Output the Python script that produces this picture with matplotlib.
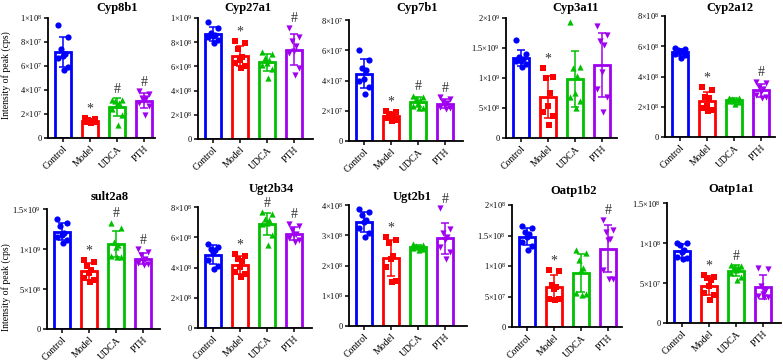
import numpy as np
import matplotlib
matplotlib.use('Agg')
import matplotlib.pyplot as plt

plt.rcParams['font.family'] = ['Liberation Serif', 'DejaVu Serif']
plt.rcParams['mathtext.fontset'] = 'custom'
plt.rcParams['mathtext.rm'] = 'Liberation Serif'
plt.rcParams['mathtext.it'] = 'Liberation Serif:italic'
plt.rcParams['mathtext.bf'] = 'Liberation Serif:bold'

groups = ['Control', 'Model', 'UDCA', 'PTH']
colors = ['#0000ff', '#ff0000', '#00c000', '#a000f0']
markers = ['o', 's', '^', 'v']

titles = ['Cyp8b1', 'Cyp27a1', 'Cyp7b1', 'Cyp3a11', 'Cyp2a12',
          'sult2a8', 'Ugt2b34', 'Ugt2b1', 'Oatp1b2', 'Oatp1a1']
units = [1e7, 1e8, 1e7, 1e8, 1e8, 1e8, 1e8, 1e8, 1e7, 1e7]

cyp8b1 = [[9.4, 8.4, 7.4, 7.0, 6.8, 6.7, 5.9, 5.7],
          [1.7, 1.6, 1.5, 1.45, 1.4, 1.35, 1.3, 1.25],
          [3.2, 3.2, 3.05, 2.95, 2.8, 2.4, 1.9, 1.05],
          [3.9, 3.7, 3.3, 3.3, 3.2, 2.95, 2.65, 1.95]]
cyp27a1 = [[9.7, 9.2, 8.8, 8.6, 8.5, 8.4, 8.2, 7.9],
           [8.1, 7.9, 7.4, 6.8, 6.5, 6.3, 6.0, 5.9],
           [7.2, 7.0, 6.7, 6.55, 6.3, 6.1, 5.75, 5.05],
           [9.2, 8.4, 8.1, 7.7, 7.25, 7.1, 5.9, 5.3]]
cyp7b1 = [[6.0, 5.35, 4.8, 4.7, 4.1, 4.0, 3.6, 3.1],
          [2.0, 1.9, 1.8, 1.7, 1.6, 1.5, 1.4, 1.35],
          [3.0, 2.9, 2.8, 2.7, 2.5, 2.3, 2.2, 2.15],
          [2.9, 2.8, 2.6, 2.5, 2.35, 2.25, 2.15, 2.1]]
cyp3a11 = [[16.3, 14.0, 13.5, 13.2, 12.9, 12.8, 12.4, 11.9],
           [11.7, 10.2, 10.0, 7.5, 5.3, 4.4, 3.6, 2.1],
           [19.4, 11.9, 11.7, 10.3, 7.5, 6.9, 6.2, 5.0],
           [18.6, 17.2, 16.1, 15.5, 11.0, 8.1, 6.9, 4.4]]
cyp2a12 = [[5.9, 5.8, 5.75, 5.7, 5.6, 5.5, 5.4, 5.2],
           [3.3, 3.1, 2.65, 2.55, 2.05, 1.9, 1.8, 1.7],
           [2.6, 2.55, 2.5, 2.45, 2.4, 2.35, 2.3, 2.2],
           [3.65, 3.55, 3.3, 3.2, 3.0, 2.75, 2.65, 2.55]]
sult2a8 = [[13.8, 13.3, 12.9, 12.0, 11.8, 11.5, 11.1, 10.8],
           [8.6, 8.4, 7.9, 7.4, 7.0, 6.4, 6.1, 5.9],
           [13.3, 12.6, 10.9, 10.5, 10.3, 9.1, 9.0, 9.0],
           [10.0, 9.6, 9.2, 8.8, 8.5, 8.3, 8.1, 8.0]]
ugt2b34 = [[5.57, 5.35, 5.24, 5.13, 5.02, 4.47, 4.07, 3.92],
           [4.87, 4.74, 4.58, 4.43, 4.03, 3.7, 3.59, 3.37],
           [7.67, 7.56, 7.22, 7.11, 6.93, 6.89, 6.12, 5.46],
           [6.89, 6.72, 6.46, 6.24, 6.12, 5.97, 5.79, 5.68]]
ugt2b1 = [[3.86, 3.78, 3.67, 3.5, 3.45, 3.23, 3.06, 2.95],
          [2.95, 2.85, 2.75, 2.3, 2.2, 1.95, 1.5, 1.45],
          [2.7, 2.68, 2.65, 2.62, 2.6, 2.58, 2.55, 2.52],
          [3.89, 3.2, 3.06, 2.95, 2.85, 2.6, 2.45, 2.2]]
oatp1b2 = [[16.5, 16.3, 15.6, 15.3, 14.8, 14.0, 13.2, 12.6],
           [9.3, 9.2, 6.85, 6.6, 6.3, 4.65, 4.55, 4.4],
           [12.6, 12.05, 10.95, 9.6, 9.3, 5.5, 5.35, 5.2],
           [17.6, 15.9, 15.6, 14.5, 14.2, 9.3, 7.9, 7.8]]
oatp1a1 = [[10.0, 9.95, 9.8, 9.1, 8.9, 8.3, 8.1, 8.0],
           [6.0, 5.8, 5.6, 5.4, 4.6, 3.7, 3.5, 2.9],
           [7.25, 7.1, 7.05, 6.95, 6.6, 6.2, 5.8, 5.4],
           [6.85, 6.7, 4.6, 4.0, 3.6, 3.4, 3.3, 3.2]]

panels = [cyp8b1, cyp27a1, cyp7b1, cyp3a11, cyp2a12,
          sult2a8, ugt2b34, ugt2b1, oatp1b2, oatp1a1]

yticks = [[0, 2, 4, 6, 8, 10], [0, 2, 4, 6, 8, 10], [0, 2, 4, 6, 8],
          [0, 5, 10, 15, 20], [0, 2, 4, 6, 8],
          [0, 5, 10, 15], [0, 2, 4, 6, 8], [0, 1, 2, 3, 4],
          [0, 5, 10, 15, 20], [0, 5, 10, 15]]

sig = [['', '*', '#', '#'], ['', '*', '', '#'], ['', '*', '#', '#'],
       ['', '*', '', ''], ['', '*', '', '#'],
       ['', '*', '#', '#'], ['', '*', '#', '#'], ['', '*', '', '#'],
       ['', '*', '', '#'], ['', '*', '#', '']]

# layout (pixel boxes: left, right, top, bottom)
W, H = 783, 362
boxes = [(48, 155, 18, 138), (198, 313, 18, 139), (349, 463, 20, 141),
         (506, 617, 18, 138), (665, 775, 16, 137),
         (47, 160, 209, 329), (198, 312, 207, 328), (349, 467, 205, 326),
         (512, 622, 205, 327), (667, 781, 203, 323)]
title_pos = [(117, 8), (248, 8), (417, 8), (576, 8), (730, 8),
             (110, 197), (271, 189), (412, 197), (574, 191), (731, 189)]
jitter = [-0.17, 0.17, -0.09, 0.09, 0.0, -0.2, 0.2, 0.03]
px_per_unit = 27.0


def fmt(v):
    if v == 0:
        return '0'
    e = int(np.floor(np.log10(v) + 1e-9))
    m = v / 10 ** e
    return r'$\mathregular{%g{\times}10^{%d}}$' % (round(m, 2), e)


fig = plt.figure(figsize=(W / 100, H / 100), dpi=100)

for i, data in enumerate(panels):
    l, r, t, b = boxes[i]
    ax = fig.add_axes([l / W, 1 - b / H, (r - l) / W, (b - t) / H])
    u = units[i]
    x = np.arange(len(groups))
    for j, vals in enumerate(data):
        v = np.array(vals) * u
        m = v.mean()
        sd = v.std(ddof=1)
        ax.bar(x[j], m, width=0.62, facecolor='white', edgecolor=colors[j],
               linewidth=2.0, zorder=2)
        ax.errorbar(x[j], m, yerr=sd, color=colors[j], capsize=3,
                    elinewidth=1.1, capthick=1.1, zorder=3)
        xs = x[j] + np.array(jitter[:len(v)])
        ax.scatter(xs, v, marker=markers[j], s=20, color=colors[j],
                   zorder=4, linewidths=0)
        if sig[i][j]:
            top = max(m + sd, v.max())
            ax.text(x[j], top + 0.02 * yticks[i][-1] * u, sig[i][j],
                    ha='center', va='bottom', fontsize=10, color='#333333')
    ymax = yticks[i][-1] * u
    ax.set_ylim(0, ymax)
    width_px = r - l
    ax.set_xlim(-15 / px_per_unit, -15 / px_per_unit + width_px / px_per_unit)
    ax.set_yticks([tk * u for tk in yticks[i]])
    ax.set_yticklabels([fmt(tk * u) for tk in yticks[i]], fontsize=6)
    ax.set_xticks(x)
    ax.set_xticklabels(groups, rotation=45, ha='right',
                       rotation_mode='anchor', fontsize=7)
    for s in ['top', 'right']:
        ax.spines[s].set_visible(False)
    for s in ['left', 'bottom']:
        ax.spines[s].set_linewidth(1.3)
    ax.tick_params(axis='both', length=3, width=1.1, pad=1.5)
    tx, ty = title_pos[i]
    fig.text(tx / W, 1 - ty / H, titles[i], ha='center', va='center',
             fontsize=9, fontweight='bold')

fig.text(6 / W, 1 - 75 / H, 'Intensity of peak (cps)', rotation=90,
         ha='center', va='center', fontsize=7)
fig.text(6 / W, 1 - 287 / H, 'Intensity of peak (cps)', rotation=90,
         ha='center', va='center', fontsize=7)

fig.savefig('out.png', dpi=100)
